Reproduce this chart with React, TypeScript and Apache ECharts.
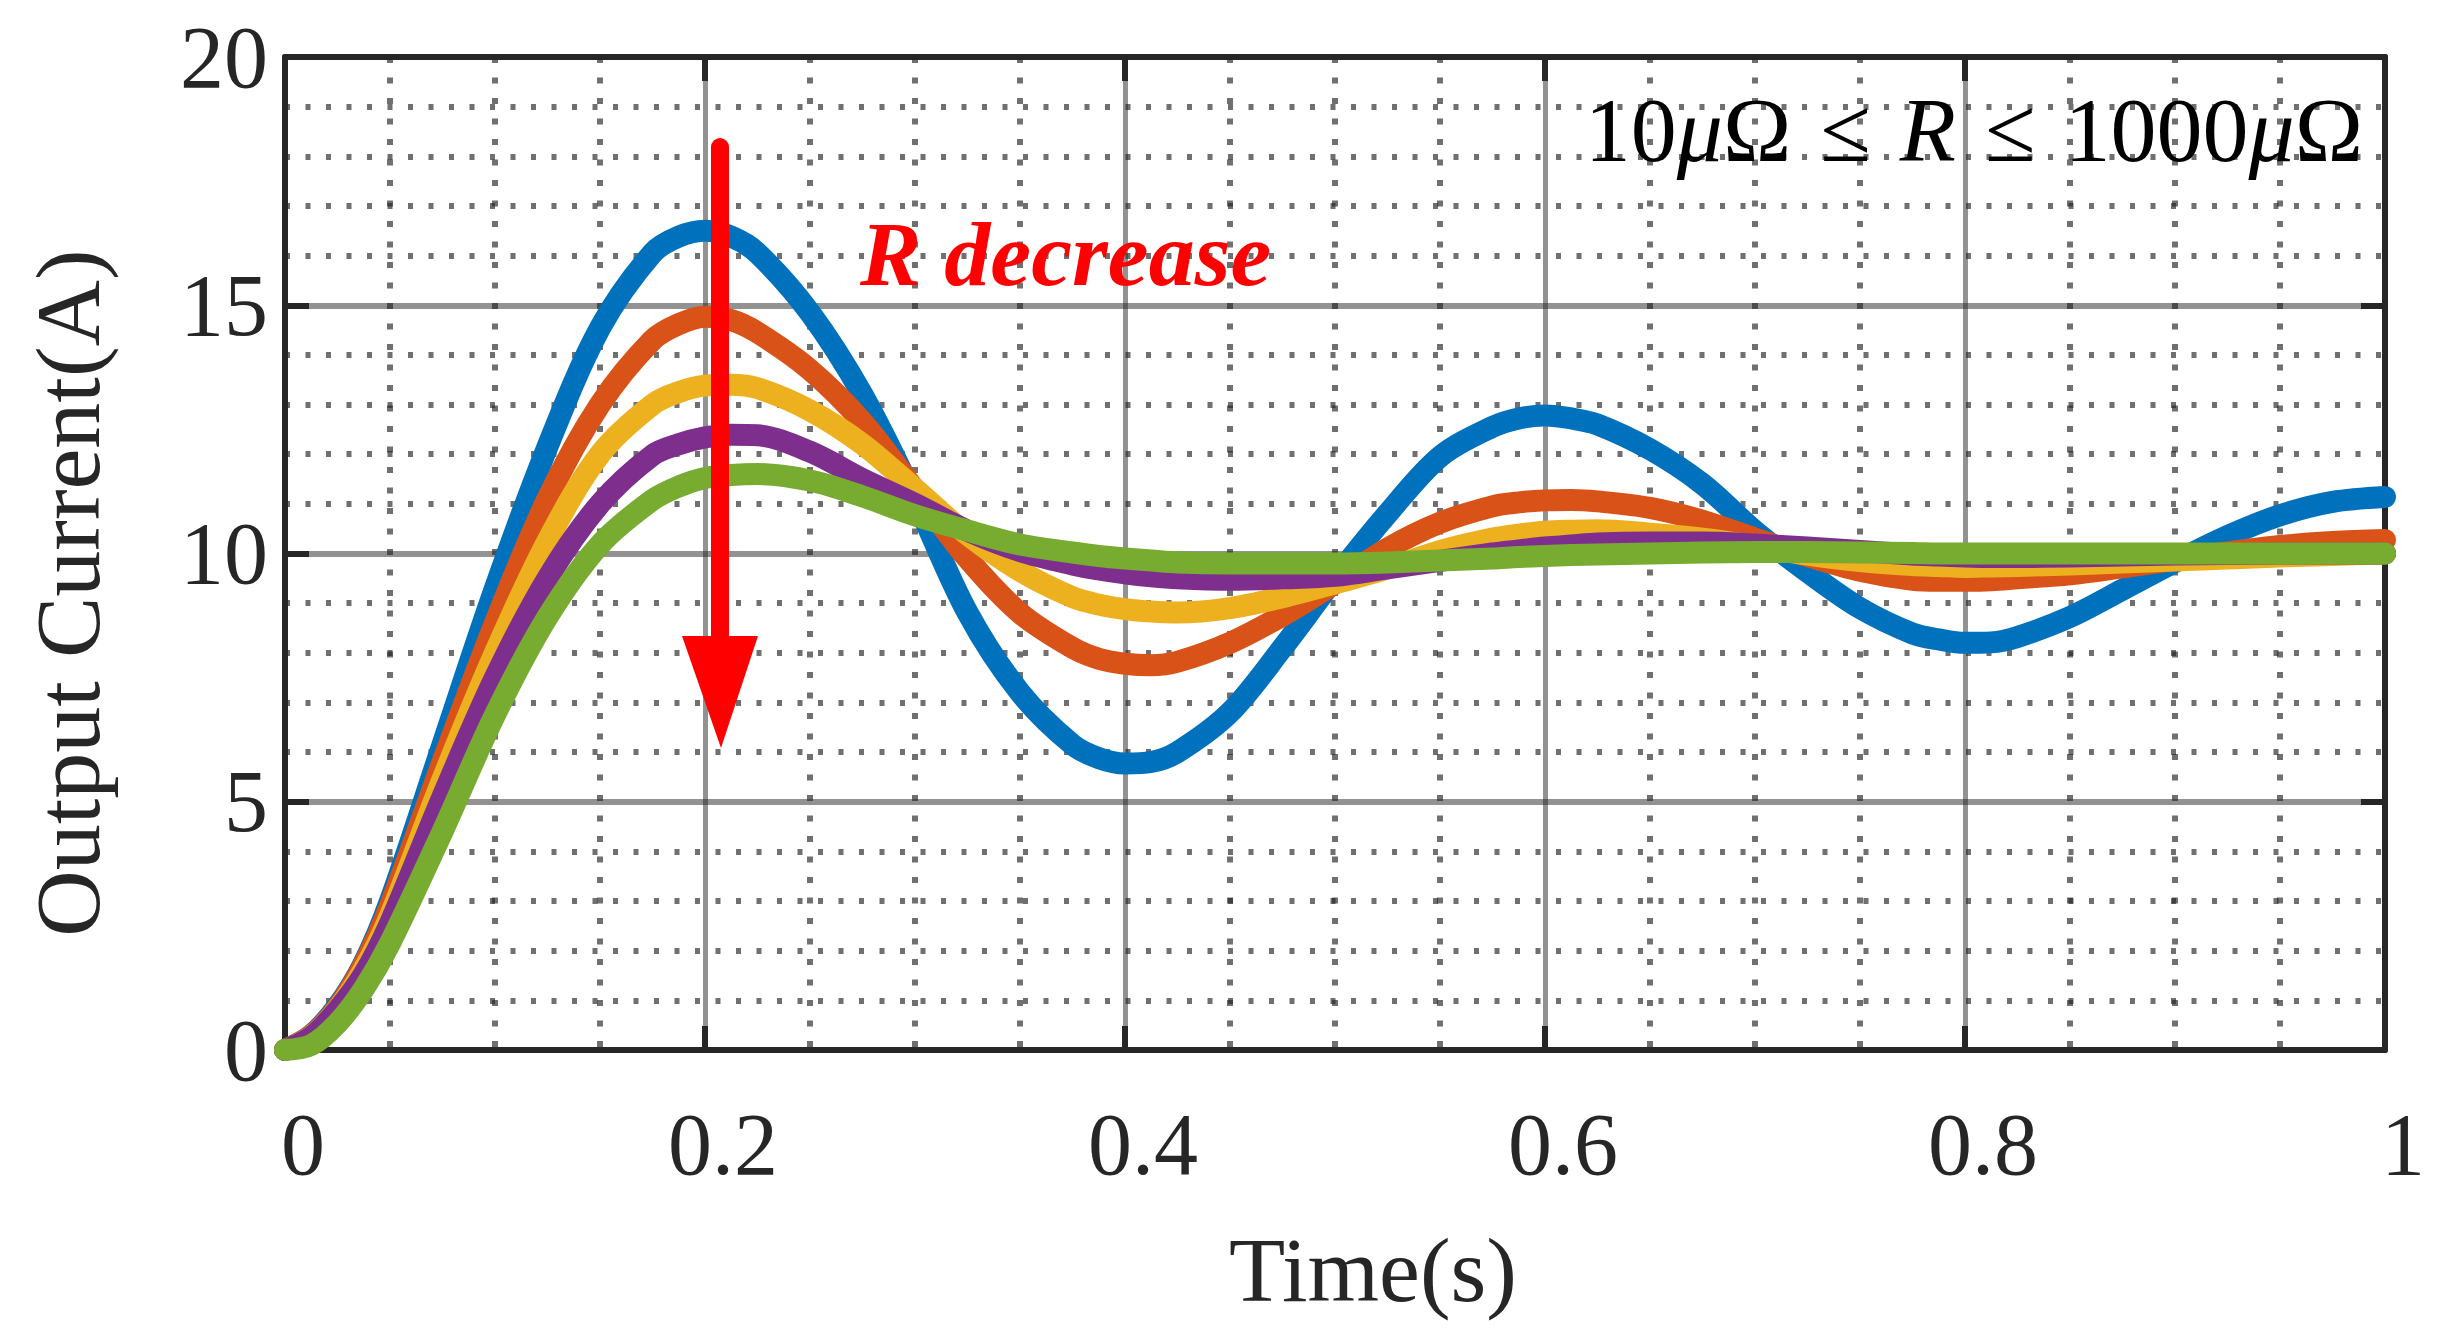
import React, { useEffect, useRef } from "react";
import * as echarts from "echarts";

// Time samples (s)
const time = [
  0, 0.0125, 0.025, 0.0375, 0.05,
  0.075, 0.1, 0.125, 0.15, 0.175,
  0.1875, 0.2, 0.2125, 0.225, 0.25,
  0.275, 0.3, 0.325, 0.35, 0.375,
  0.3875, 0.4, 0.4125, 0.425, 0.45,
  0.475, 0.5, 0.525, 0.55, 0.575,
  0.5875, 0.6, 0.6125, 0.625, 0.65,
  0.675, 0.7, 0.725, 0.75, 0.775,
  0.7875, 0.8, 0.8125, 0.825, 0.85,
  0.875, 0.9, 0.925, 0.95, 0.975,
  1,
];

// Output current (A), one array per R value
const currentBlue = [
  0, 0.3, 0.88, 1.75, 3.0,
  6.15, 9.3, 12.15, 14.54, 16.05,
  16.38, 16.5, 16.38, 16.05, 14.85,
  13.2, 11.1, 8.81, 7.2, 6.15,
  5.88, 5.77, 5.8, 6.0, 6.8,
  8.1, 9.5, 10.8, 11.95, 12.55,
  12.72, 12.78, 12.72, 12.6, 12.1,
  11.4, 10.45, 9.63, 8.9, 8.39,
  8.27, 8.2, 8.21, 8.32, 8.72,
  9.27, 9.83, 10.35, 10.77, 11.04,
  11.14,
];
const currentOrange = [
  0, 0.29, 0.85, 1.72, 2.9,
  5.8, 8.6, 11.1, 13.0, 14.3,
  14.62, 14.77, 14.7, 14.45, 13.7,
  12.65, 11.28, 9.9, 8.8, 8.1,
  7.88, 7.78, 7.75, 7.82, 8.2,
  8.75, 9.4, 10.1, 10.62, 10.95,
  11.03, 11.07, 11.08, 11.05, 10.92,
  10.66, 10.3, 9.95, 9.65, 9.47,
  9.45, 9.45, 9.46, 9.5, 9.58,
  9.72, 9.87, 10.02, 10.15, 10.23,
  10.27,
];
const currentYellow = [
  0, 0.27, 0.82, 1.62, 2.7,
  5.45, 8.0, 10.25, 12.0, 13.0,
  13.25, 13.38, 13.4, 13.33, 12.88,
  12.2, 11.3, 10.38, 9.65, 9.12,
  8.97, 8.88, 8.83, 8.81, 8.9,
  9.12, 9.4, 9.7, 10.05, 10.3,
  10.38, 10.44, 10.46, 10.47, 10.4,
  10.3, 10.15, 9.98, 9.85, 9.77,
  9.75, 9.73, 9.74, 9.75, 9.78,
  9.82, 9.86, 9.9, 9.94, 9.97,
  10.0,
];
const currentPurple = [
  0, 0.26, 0.8, 1.52, 2.55,
  5.1, 7.5, 9.5, 11.0, 11.98,
  12.2, 12.34, 12.39, 12.38, 12.05,
  11.5, 11.0, 10.46, 10.05, 9.78,
  9.68, 9.6, 9.54, 9.5, 9.47,
  9.5, 9.55, 9.7, 9.85, 10.0,
  10.06, 10.12, 10.16, 10.2, 10.22,
  10.22, 10.18, 10.12, 10.05, 9.98,
  9.96, 9.94, 9.93, 9.93, 9.94,
  9.96, 9.98, 9.99, 10.0, 10.0,
  10.0,
];
const currentGreen = [
  0, 0.1, 0.54, 1.23, 2.15,
  4.4, 6.75, 8.72, 10.18, 11.08,
  11.35, 11.52, 11.58, 11.6, 11.47,
  11.15, 10.77, 10.46, 10.18, 10.02,
  9.95, 9.9, 9.86, 9.82, 9.8,
  9.8, 9.8, 9.82, 9.86, 9.9,
  9.93, 9.95, 9.97, 9.98, 10.0,
  10.02, 10.03, 10.03, 10.02, 10.01,
  10.0, 10.0, 10.0, 10.0, 10.0,
  10.0, 10.0, 10.0, 10.0, 10.0,
  10.0,
];

const seriesList = [
  { name: "R1", color: "#0072BD", values: currentBlue },
  { name: "R2", color: "#D95319", values: currentOrange },
  { name: "R3", color: "#EDB120", values: currentYellow },
  { name: "R4", color: "#7E2F8E", values: currentPurple },
  { name: "R5", color: "#77AC30", values: currentGreen },
];

const xRange = [0, 1];
const xStep = 0.2;
const yRange = [0, 20];
const yStep = 5;

const FONT = '"Liberation Serif", "Times New Roman", Times, serif';
const INK = "#262626";
const MAJOR = "rgba(38,38,38,0.5)";
const MINOR = "rgba(38,38,38,0.66)";

export default function App() {
  const ref = useRef<HTMLDivElement>(null);

  useEffect(() => {
    document.body.style.margin = "0";
    if (!ref.current) return;
    const chart = echarts.init(ref.current, undefined, { renderer: "svg" });

    const axisLine = { show: true, onZero: false, lineStyle: { color: INK, width: 6 } };
    const axisTick = { show: true, inside: true, length: 24, lineStyle: { color: INK, width: 6 } };
    const labelBase = { fontSize: 88, fontFamily: FONT, color: INK };

    const option: any = {
      animation: false,
      backgroundColor: "#ffffff",
      grid: { left: 285, top: 57, right: 68, bottom: 290, containLabel: false },
      xAxis: [
        {
          type: "value",
          min: xRange[0],
          max: xRange[1],
          interval: xStep,
          position: "bottom",
          axisLine,
          axisTick,
          axisLabel: { ...labelBase, margin: 50, padding: [0, 0, 0, 36] },
          splitLine: {
            show: true,
            showMinLine: false,
            showMaxLine: false,
            lineStyle: { color: MAJOR, width: 5 },
          },
          minorTick: { show: false, splitNumber: 4 },
          minorSplitLine: { show: true, lineStyle: { color: MINOR, width: 6, type: [6, 14.5] } },
        },
        {
          type: "value",
          min: xRange[0],
          max: xRange[1],
          interval: xStep,
          position: "top",
          axisLine,
          axisTick,
          axisLabel: { show: false },
          splitLine: { show: false },
        },
      ],
      yAxis: [
        {
          type: "value",
          min: yRange[0],
          max: yRange[1],
          interval: yStep,
          position: "left",
          axisLine,
          axisTick,
          axisLabel: { ...labelBase, margin: 17, padding: [16, 0, 0, 0] },
          splitLine: {
            show: true,
            showMinLine: false,
            showMaxLine: false,
            lineStyle: { color: MAJOR, width: 6 },
          },
          minorTick: { show: false, splitNumber: 5 },
          minorSplitLine: { show: true, lineStyle: { color: MINOR, width: 6, type: [5, 15.5] } },
        },
        {
          type: "value",
          min: yRange[0],
          max: yRange[1],
          interval: yStep,
          position: "right",
          axisLine,
          axisTick,
          axisLabel: { show: false },
          splitLine: { show: false },
        },
      ],
      series: seriesList.map((s) => ({
        name: s.name,
        type: "line",
        xAxisIndex: 0,
        yAxisIndex: 0,
        data: time.map((t, i) => [t, s.values[i]]),
        smooth: 0.33,
        showSymbol: false,
        symbol: "none",
        clip: false,
        lineStyle: { color: s.color, width: 22, cap: "round", join: "round" },
        itemStyle: { color: s.color },
        z: 3,
      })),
      graphic: [
        {
          type: "text",
          x: 68,
          y: 593,
          rotation: Math.PI / 2,
          style: {
            text: "Output Current(A)",
            fontSize: 92,
            fontFamily: FONT,
            fill: INK,
            align: "center",
            verticalAlign: "middle",
            textAlign: "center",
            textVerticalAlign: "middle",
          },
        },
        {
          type: "text",
          x: 1373,
          y: 1270,
          style: {
            text: "Time(s)",
            fontSize: 92,
            fontFamily: FONT,
            fill: INK,
            align: "center",
            verticalAlign: "middle",
            textAlign: "center",
            textVerticalAlign: "middle",
          },
        },
        {
          type: "text",
          x: 860,
          y: 254,
          z: 10,
          style: {
            text: "R decrease",
            fontSize: 92,
            fontStyle: "italic",
            fontWeight: "bold",
            fontFamily: FONT,
            fill: "#ff0000",
            align: "left",
            verticalAlign: "middle",
            textAlign: "left",
            textVerticalAlign: "middle",
          },
        },
        {
          type: "text",
          x: 2363,
          y: 130,
          z: 10,
          style: {
            text: "{n|10}{i|μ}{n|Ω}{s| }{n|≤}{s| }{i|R}{s| }{n|≤}{s| }{n|1000}{i|μ}{n|Ω}",
            fontSize: 92,
            fontFamily: FONT,
            fill: "#000000",
            align: "right",
            verticalAlign: "middle",
            textAlign: "right",
            textVerticalAlign: "middle",
            rich: {
              n: { fontSize: 92, fontFamily: FONT, fill: "#000000", color: "#000000" },
              i: { fontSize: 92, fontFamily: FONT, fontStyle: "italic", fill: "#000000", color: "#000000" },
              s: { fontSize: 92, fontFamily: FONT, width: 29 },
            },
          },
        },
        {
          type: "line",
          z: 10,
          shape: { x1: 720, y1: 147, x2: 720, y2: 645 },
          style: { stroke: "#ff0000", lineWidth: 18, lineCap: "round" },
        },
        {
          type: "polygon",
          z: 10,
          shape: { points: [[682, 636], [758, 636], [721, 748]] },
          style: { fill: "#ff0000" },
        },
      ],
    };

    chart.setOption(option);
    return () => chart.dispose();
  }, []);

  return <div ref={ref} style={{ width: 2453, height: 1340 }} />;
}
